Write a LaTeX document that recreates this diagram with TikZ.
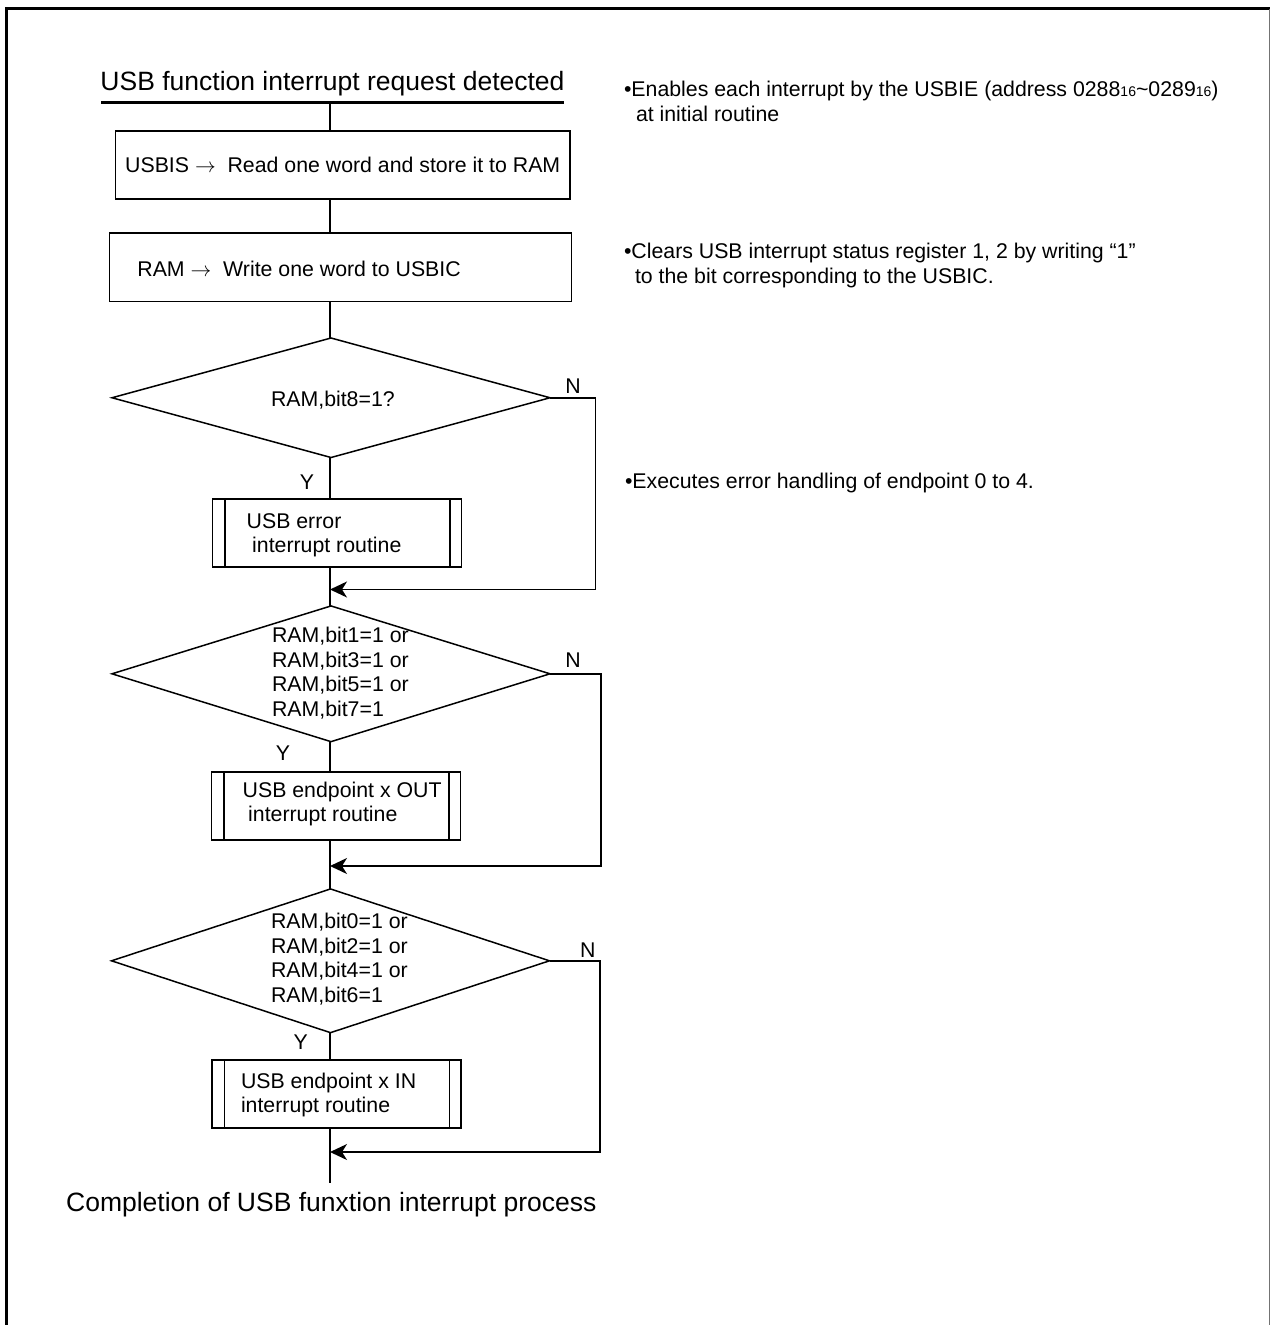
\documentclass[tikz,border=0pt]{standalone}
\usepackage{fontspec}
\setmainfont{Liberation Sans}
\usetikzlibrary{shapes.geometric,arrows.meta,calc}
\begin{document}
\begin{tikzpicture}[x=1pt,y=-1pt,
  every node/.style={font=\fontsize{21.3pt}{24.5pt}\selectfont, inner sep=0pt, outer sep=0pt},
  flow/.style={line width=1.5pt},
  proc/.style={draw, line width=1.5pt, inner sep=0pt, outer sep=0pt},
  subr/.style={proc, minimum width=249pt, minimum height=68pt,
    path picture={\draw[line width=1.5pt]
      ([xshift=12.5pt]path picture bounding box.north west) -- ([xshift=12.5pt]path picture bounding box.south west)
      ([xshift=-11.5pt]path picture bounding box.north east) -- ([xshift=-11.5pt]path picture bounding box.south east);}},
  decision/.style={draw, diamond, line width=1.5pt, inner sep=0pt, outer sep=0pt, minimum width=438pt},
  txt/.style={align=left, anchor=west},
  bigtxt/.style={font=\fontsize{26.5pt}{30pt}\selectfont},
  merge/.style={flow, -{Stealth[length=17pt,width=16pt,inset=5pt]}},
]
\useasboundingbox (0,0) rectangle (1270,1325);
\fill[white] (0,0) rectangle (1270,1325);

% frame (open at the bottom)
\coordinate (fBL) at (6.5,1325);
\coordinate (fTL) at (6.5,8.5);
\coordinate (fTR) at (1270,8.5);
\coordinate (fRT) at (1269,8.5);
\coordinate (fRB) at (1269,1325);
\draw[line width=2.5pt] (fBL) -- (fTL) -- (fTR);
\draw[line width=1pt, black!55] (fRT) -- (fRB);

% title
\node[bigtxt, anchor=base] (title) at (332.5,90) {USB function interrupt request detected};
\coordinate (ulL) at (101,102.5);
\coordinate (ulR) at (564,102.5);
\draw[line width=3pt] (ulL) -- (ulR);
\coordinate (start) at (330,102.5);

% process boxes
\node[proc, minimum width=454.5pt, minimum height=68pt] (b1) at (342.75,165)
  {USBIS $\rightarrow$~~Read one word and store it to RAM};
\node[proc, minimum width=462pt, minimum height=68.5pt] (b2) at (340.4,267.3) {};
\node[txt] (b2t) at ([xshift=28pt,yshift=-1.5pt]b2.west) {RAM $\rightarrow$~~Write one word to USBIC};

% decision 1
\node[decision, minimum height=119.5pt] (d1) at (331,397.75) {};
\node[txt] (d1t) at (271,400) {RAM,bit8=1?};
\node (y1) at (307,482) {Y};
\node (n1) at (573,386) {N};
\node[subr] (s1) at (337.2,533) {};
\node[txt] (s1t) at ([xshift=34pt,yshift=-2.5pt]s1.west) {USB error\\\hspace*{5.5pt}interrupt routine};
\coordinate (c1) at (595.5,589.5);
\coordinate (m1) at (330,589.5);

% decision 2
\node[decision, minimum height=135.7pt] (d2) at (331,673.8) {};
\node[txt] (d2t) at (272,673) {RAM,bit1=1 or\\RAM,bit3=1 or\\RAM,bit5=1 or\\RAM,bit7=1};
\node (y2) at (283,753) {Y};
\node (n2) at (573,660) {N};
\node[subr] (s2) at (336.2,806) {};
\node[txt] (s2t) at ([xshift=31pt,yshift=2pt]s2.west) {USB endpoint x OUT\\\hspace*{5.5pt}interrupt routine};
\coordinate (c2) at (601,866);
\coordinate (m2) at (330,866);

% decision 3
\node[decision, minimum height=143.7pt] (d3) at (330.5,960.8) {};
\node[txt] (d3t) at (271,959) {RAM,bit0=1 or\\RAM,bit2=1 or\\RAM,bit4=1 or\\RAM,bit6=1};
\node (y3) at (300.7,1041.7) {Y};
\node (n3) at (587.7,950) {N};
\node[subr] (s3) at (336.5,1094) {};
\node[txt] (s3t) at ([xshift=29pt,yshift=-1pt]s3.west) {USB endpoint x IN\\interrupt routine};
\coordinate (c3) at (600,1152);
\coordinate (m3) at (330,1152);

\coordinate (end) at (330,1183);
\node[bigtxt] (done) at (331.3,1205) {Completion of USB funxtion interrupt process};

% main flow
\draw[flow] (start) -- (start |- b1.north);
\draw[flow] (start |- b1.south) -- (start |- b2.north);
\draw[flow] (start |- b2.south) -- (start |- d1.north);
\draw[flow] (start |- d1.south) -- (start |- s1.north);
\draw[flow] (start |- s1.south) -- (start |- d2.north);
\draw[flow] (start |- d2.south) -- (start |- s2.north);
\draw[flow] (start |- s2.south) -- (start |- d3.north);
\draw[flow] (start |- d3.south) -- (start |- s3.north);
\draw[flow] (start |- s3.south) -- (end);

% no-branches
\draw[merge] (d1.east) -| (c1) -- (m1);
\draw[merge] (d2.east) -| (c2) -- (m2);
\draw[merge] (d3.east) -| (c3) -- (m3);

% notes
\node[txt] (note1) at (624,101.5) {•Enables each interrupt by the USBIE (address 0288{\fontsize{14pt}{14pt}\selectfont 16}\textasciitilde 0289{\fontsize{14pt}{14pt}\selectfont 16})\\\hspace*{12pt}at initial routine};
\node[txt] (note2) at (624,265.5) {•Clears USB interrupt status register 1, 2 by writing “1”\\\hspace*{11pt}to the bit corresponding to the USBIC.};
\node[txt] (note3) at (625,483) {•Executes error handling of endpoint 0 to 4.};
\end{tikzpicture}
\end{document}
